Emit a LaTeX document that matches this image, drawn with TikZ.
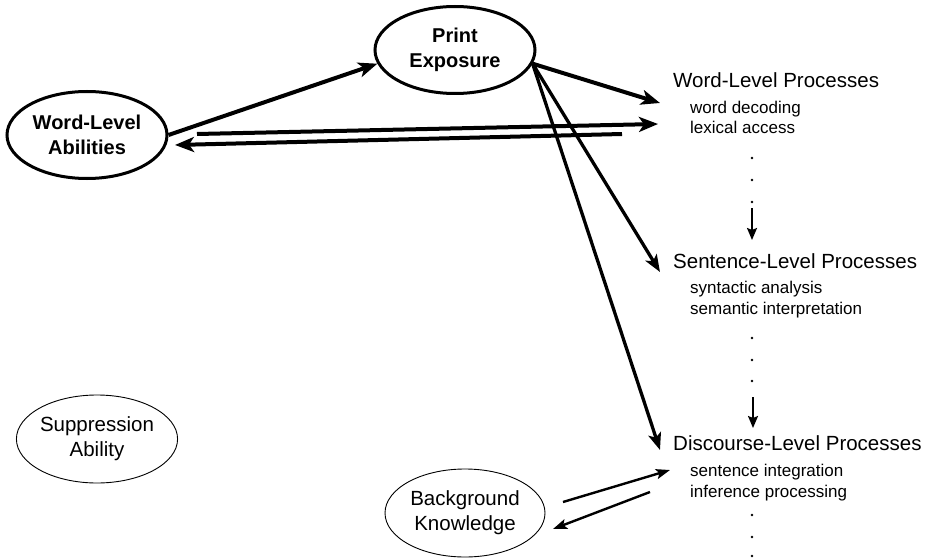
\documentclass[tikz,border=0pt]{standalone}
\usepackage{fontspec}
\setmainfont{Liberation Sans}
\usetikzlibrary{arrows.meta,positioning,shapes.geometric}

\begin{document}
\begin{tikzpicture}[x=1pt,y=-1pt,
  factor/.style={draw, ellipse, line width=3pt, minimum width=160pt, minimum height=87pt, inner sep=0pt, align=center, font=\fontsize{20}{25}\selectfont\bfseries},
  other/.style={draw, ellipse, line width=0.9pt, minimum width=160pt, minimum height=88pt, inner sep=0pt, align=center, font=\fontsize{20.5}{25}\selectfont},
  level/.style={anchor=base west, inner sep=0pt, font=\fontsize{20.5}{24}\selectfont},
  sub/.style={anchor=base west, inner sep=0pt, font=\fontsize{17}{20}\selectfont},
  feed/.style={-{Stealth[length=19pt, width=15pt, inset=5pt]}, line width=4pt},
  route/.style={-{Stealth[length=17pt, width=13pt, inset=4pt]}, line width=3.3pt},
  link/.style={-{Stealth[length=14pt, width=10pt, inset=3pt]}, line width=2.4pt},
  flow/.style={-{Stealth[length=12pt, width=10pt, inset=2pt]}, line width=2pt}
]
  \useasboundingbox (0,0) rectangle (932,559);

  \node[factor] (pe) at (455,50) {Print\\Exposure};
  \node[factor] (wla) at (87,135) {Word-Level\\Abilities};
  \node[other] (sa) at (97,439) {Suppression\\Ability};
  \node[other] (bk) at (465,513) {Background\\Knowledge};

  \node[level] (wlp) at (673,88) {Word-Level Processes};
  \node[sub] (wlp-a) at (690,114) {word decoding};
  \node[sub] (wlp-b) at (690,134) {lexical access};

  \node[level] (slp) at (673,268) {Sentence-Level Processes};
  \node[sub] (slp-a) at (690,293) {syntactic analysis};
  \node[sub] (slp-b) at (690,314) {semantic interpretation};

  \node[level] (dlp) at (673,450) {Discourse-Level Processes};
  \node[sub] (dlp-a) at (690,476) {sentence integration};
  \node[sub] (dlp-b) at (690,497) {inference processing};

  \foreach \y in {158,180,202,338,360,381,515,537,556}
    \fill (752,\y) circle (1.3pt);

  \coordinate (wlp-in) at (660,103);
  \coordinate (wlp-to) at (658,124);
  \coordinate (wla-to) at (197,134);
  \coordinate (wlp-fr) at (622,134);
  \coordinate (wla-in) at (175,145);
  \coordinate (slp-in) at (660,272);
  \coordinate (dlp-in) at (660,450);
  \coordinate (bk-to) at (563,502);
  \coordinate (dlp-bk) at (670,470);
  \coordinate (dlp-fr) at (650,492);
  \coordinate (bk-in) at (553,529);
  \coordinate (wlp-dn) at (752,208);
  \coordinate (slp-up) at (752,240);
  \coordinate (slp-dn) at (753,397);
  \coordinate (dlp-up) at (753,428);

  \draw[feed] (wla.east) -- (pe.190);
  \draw[feed] (pe.-10) -- (wlp-in);
  \draw[feed] (wla-to) -- (wlp-to);
  \draw[feed] (wlp-fr) -- (wla-in);
  \draw[route] (pe.-10) -- (slp-in);
  \draw[route] (pe.-10) -- (dlp-in);
  \draw[link] (bk-to) -- (dlp-bk);
  \draw[link] (dlp-fr) -- (bk-in);
  \draw[flow] (wlp-dn) -- (slp-up);
  \draw[flow] (slp-dn) -- (dlp-up);
\end{tikzpicture}
\end{document}
